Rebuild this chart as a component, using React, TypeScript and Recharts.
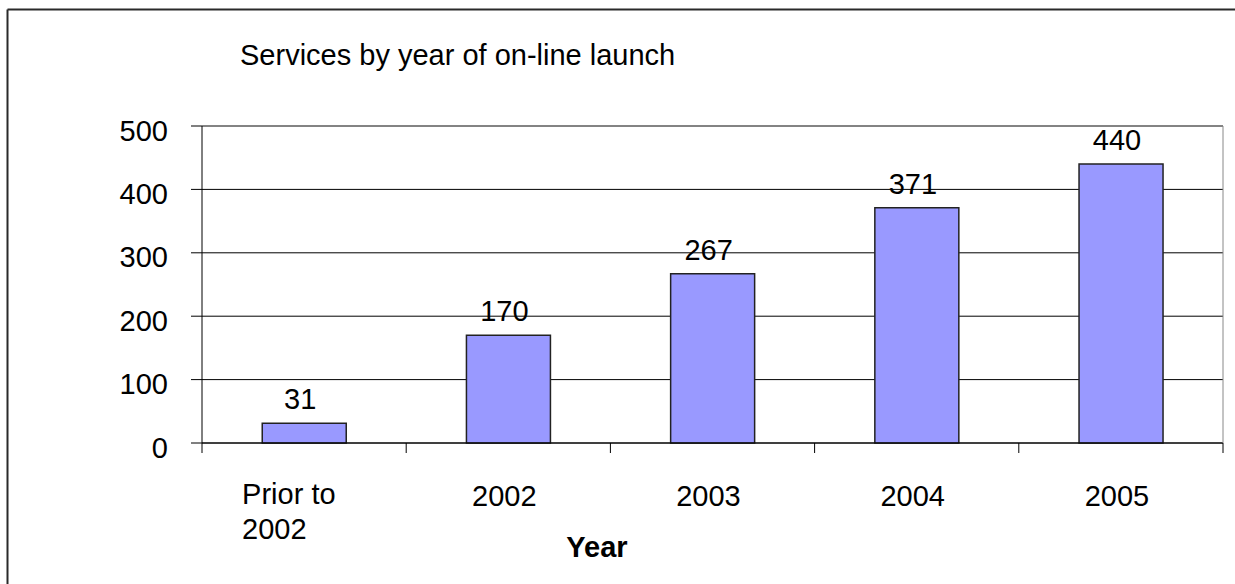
import { Bar, BarChart, CartesianGrid, XAxis, YAxis } from "recharts";

const categories = ["Prior to\n2002", "2002", "2003", "2004", "2005"];
const services = [31, 170, 267, 371, 440];
const yTicks = [0, 100, 200, 300, 400, 500];

const data = categories.map((name, i) => ({ name, services: services[i] }));

const FONT = '"Liberation Sans", Arial, sans-serif';

// category label plus the tick marks that sit on the category boundaries
function CategoryTick({ x, y, payload, index, width, visibleTicksCount }: any) {
  const band = width / visibleTicksCount;
  const lines = String(payload.value).split("\n");
  const marks = (
    <>
      <line x1={x - band / 2} y1={y} x2={x - band / 2} y2={y + 10} stroke="#000" />
      {index === visibleTicksCount - 1 && (
        <line x1={x + band / 2} y1={y} x2={x + band / 2} y2={y + 10} stroke="#000" />
      )}
    </>
  );
  if (lines.length > 1) {
    return (
      <g>
        {marks}
        <text x={x - 62} y={y} fontFamily={FONT} fontSize={29} fill="#000" textAnchor="start">
          {lines.map((l, i) => (
            <tspan key={i} x={x - 62} y={y + 61 + i * 34.5}>
              {l}
            </tspan>
          ))}
        </text>
      </g>
    );
  }
  return (
    <g>
      {marks}
      <text x={x - 4} y={y + 63} fontFamily={FONT} fontSize={29} fill="#000" textAnchor="middle">
        {payload.value}
      </text>
    </g>
  );
}

function ValueTick({ x, y, payload }: any) {
  return (
    <text x={x} y={y + 14.5} fontFamily={FONT} fontSize={29} fill="#000" textAnchor="end">
      {payload.value}
    </text>
  );
}

function ValueLabel({ x, y, width, value }: any) {
  return (
    <text x={x + width / 2 - 4} y={y - 14} fontFamily={FONT} fontSize={29} fill="#000" textAnchor="middle">
      {value}
    </text>
  );
}

export default function App() {
  return (
    <div style={{ position: "absolute", left: 0, top: 0, width: 1235, height: 584, overflow: "hidden", background: "#fff" }}>
      <BarChart
        width={1235}
        height={584}
        data={data}
        margin={{ top: 125, right: 11, left: 0, bottom: 140 }}
        barCategoryGap="29.5%"
      >
        <CartesianGrid vertical={false} stroke="#000" />
        <XAxis
          dataKey="name"
          height={1}
          tickLine={false}
          tickSize={0}
          tickMargin={0}
          axisLine={{ stroke: "#000" }}
          tick={<CategoryTick />}
          interval={0}
        />
        <XAxis xAxisId="top" orientation="top" dataKey="name" height={1} tick={false} tickLine={false} axisLine={{ stroke: "#888" }} />
        <YAxis
          width={202}
          domain={[0, 500]}
          ticks={yTicks}
          interval={0}
          tickSize={11}
          tickMargin={23}
          tickLine={{ stroke: "#000" }}
          axisLine={{ stroke: "#000" }}
          tick={<ValueTick />}
        />
        <YAxis
          yAxisId="right"
          orientation="right"
          width={1}
          domain={[0, 500]}
          tick={false}
          tickLine={false}
          axisLine={{ stroke: "#888" }}
        />
        <Bar
          dataKey="services"
          fill="#9999FF"
          stroke="#222"
          strokeWidth={1.5}
          isAnimationActive={false}
          label={<ValueLabel />}
        />
      </BarChart>
      <svg width={1235} height={584} style={{ position: "absolute", left: 0, top: 0, pointerEvents: "none" }}>
        <line x1={7.5} y1={9.5} x2={7.5} y2={584} stroke="#2a2a2a" strokeWidth={2} />
        <line x1={7.5} y1={9.5} x2={1235} y2={9.5} stroke="#2a2a2a" strokeWidth={2} />
        <text x={240} y={65} fontFamily={FONT} fontSize={29} fill="#000">
          Services by year of on-line launch
        </text>
        <text x={597} y={557} fontFamily={FONT} fontSize={29} fontWeight="bold" fill="#000" textAnchor="middle">
          Year
        </text>
      </svg>
    </div>
  );
}
